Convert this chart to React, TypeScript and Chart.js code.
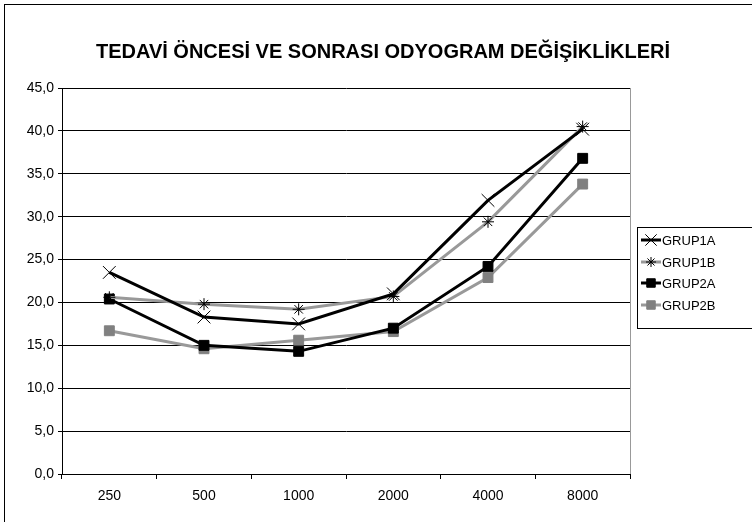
import React, { useEffect, useRef } from 'react';
import { Chart, registerables } from 'chart.js';
import { drawPoint } from 'chart.js/helpers';

Chart.register(...registerables);

const chartTitle = 'TEDAVİ ÖNCESİ VE SONRASI ODYOGRAM DEĞİŞİKLİKLERİ';
const frequencies = ['250', '500', '1000', '2000', '4000', '8000'];
const seriesNames = ['GRUP1A', 'GRUP1B', 'GRUP2A', 'GRUP2B'];
const grup1A = [23.5, 18.3, 17.5, 21.0, 31.9, 40.2];
const grup1B = [20.6, 19.8, 19.2, 20.7, 29.4, 40.5];
const grup2A = [20.4, 15.0, 14.3, 17.0, 24.2, 36.8];
const grup2B = [16.7, 14.6, 15.6, 16.6, 22.9, 33.8];
const yMin = 0;
const yMax = 45;
const yStep = 5;

const FONT = '"Liberation Sans", Arial, sans-serif';

const styles = [
  { line: '#000000', point: '#000000', fill: '#000000', pointStyle: 'crossRot', radius: 9, legendRadius: 8 },
  { line: '#999999', point: '#000000', fill: '#000000', pointStyle: 'star', radius: 6, legendRadius: 5 },
  { line: '#000000', point: '#000000', fill: '#000000', pointStyle: 'rect', radius: 7, legendRadius: 6 },
  { line: '#999999', point: '#808080', fill: '#808080', pointStyle: 'rect', radius: 7, legendRadius: 6 },
];

const frameplugin = {
  id: 'frameplugin',
  beforeDraw(chart: any) {
    const { ctx, width, height } = chart;
    ctx.save();
    ctx.fillStyle = '#ffffff';
    ctx.fillRect(0, 0, width, height);
    ctx.strokeStyle = '#000000';
    ctx.lineWidth = 1;
    ctx.strokeRect(4.5, 4.5, width + 20, height + 20);
    ctx.fillStyle = '#000000';
    ctx.font = `bold 20px ${FONT}`;
    ctx.textAlign = 'center';
    ctx.textBaseline = 'middle';
    ctx.fillText(chartTitle, 383, 52);
    ctx.restore();
  },
  afterDatasetsDraw(chart: any) {
    const { ctx, chartArea } = chart;
    ctx.save();
    // right border of plot area
    ctx.strokeStyle = '#999999';
    ctx.lineWidth = 1;
    ctx.beginPath();
    ctx.moveTo(Math.round(chartArea.right) + 0.5, chartArea.top);
    ctx.lineTo(Math.round(chartArea.right) + 0.5, chartArea.bottom);
    ctx.stroke();

    // legend
    ctx.strokeStyle = '#000000';
    ctx.strokeRect(637.5, 227.5, 140, 101);
    const ys = [240, 262, 283, 305];
    chart.data.datasets.forEach((ds: any, i: number) => {
      const st = styles[i];
      const y = ys[i];
      ctx.strokeStyle = st.line;
      ctx.lineWidth = 3;
      ctx.beginPath();
      ctx.moveTo(641, y);
      ctx.lineTo(661, y);
      ctx.stroke();
      ctx.fillStyle = st.fill;
      ctx.strokeStyle = st.point;
      ctx.lineWidth = 1;
      drawPoint(ctx, { pointStyle: st.pointStyle, radius: st.legendRadius, rotation: 0, borderWidth: 1 } as any, 651, y);
      ctx.fillStyle = '#000000';
      ctx.font = `13px ${FONT}`;
      ctx.textAlign = 'left';
      ctx.textBaseline = 'middle';
      ctx.fillText(ds.label, 662, y + 1);
    });
    ctx.restore();
  },
};

export default function App() {
  const ref = useRef<HTMLCanvasElement | null>(null);

  useEffect(() => {
    if (!ref.current) return;
    const dataSets = [grup1A, grup1B, grup2A, grup2B];
    const chart = new Chart(ref.current, {
      type: 'line',
      data: {
        labels: frequencies,
        datasets: dataSets.map((d, i) => ({
          label: seriesNames[i],
          data: d,
          borderColor: styles[i].line,
          backgroundColor: styles[i].fill,
          borderWidth: 3,
          pointStyle: styles[i].pointStyle as any,
          pointRadius: styles[i].radius,
          pointBorderColor: styles[i].point,
          pointBackgroundColor: styles[i].fill,
          pointBorderWidth: 1,
          tension: 0,
          fill: false,
        })),
      },
      options: {
        responsive: false,
        animation: false,
        devicePixelRatio: 1,
        layout: { padding: { top: 88, right: 122, left: 0, bottom: 0 } },
        plugins: {
          legend: { display: false },
          title: { display: false },
          tooltip: { enabled: false },
        },
        scales: {
          x: {
            type: 'category',
            offset: true,
            grid: {
              drawOnChartArea: false,
              drawTicks: true,
              tickLength: 5,
              offset: true,
              color: '#000000',
            },
            border: { color: '#000000', width: 1 },
            ticks: { color: '#000000', font: { family: FONT, size: 14 }, padding: 9, maxRotation: 0 },
            afterFit(scale: any) {
              scale.height = 48;
            },
          },
          y: {
            min: yMin,
            max: yMax,
            grid: { color: '#000000', tickLength: 4, drawTicks: true },
            border: { color: '#000000', width: 1 },
            ticks: {
              stepSize: yStep,
              color: '#000000',
              font: { family: FONT, size: 14 },
              padding: 4,
              callback: (v: any) => Number(v).toFixed(1).replace('.', ','),
            },
            afterFit(scale: any) {
              scale.width = 62;
            },
          },
        },
      },
      plugins: [frameplugin],
    });
    return () => chart.destroy();
  }, []);

  return (
    <div style={{ position: 'absolute', left: 0, top: 0, width: 752, height: 522 }}>
      <canvas ref={ref} width={752} height={522} style={{ width: 752, height: 522, display: 'block' }} />
    </div>
  );
}
